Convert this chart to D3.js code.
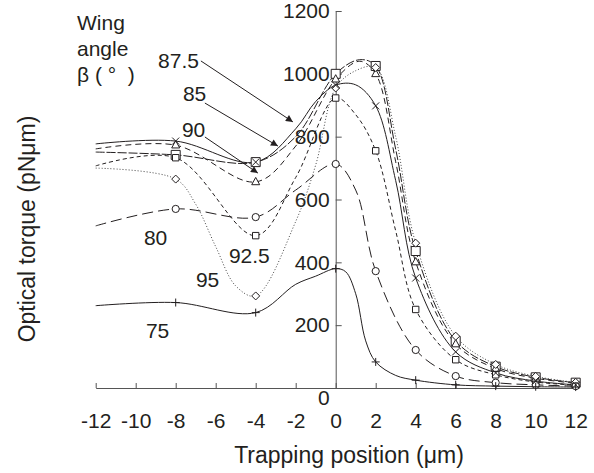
<!DOCTYPE html>
<html>
<head>
<meta charset="utf-8">
<script src="https://cdn.jsdelivr.net/npm/d3@7"></script>
<style>
  body { margin: 0; background: #fff; }
  svg text { font-family: "Liberation Sans", Arial, sans-serif; fill: #231f20; }
</style>
</head>
<body>
<svg id="chart" width="594" height="473"></svg>
<script>
// --- Data ---
const xTicks = [-12, -10, -8, -6, -4, -2, 0, 2, 4, 6, 8, 10, 12];
const yTicks = [0, 200, 400, 600, 800, 1000, 1200];
const markerX = [-8, -4, 0, 2, 4, 6, 8, 10, 12];

// [position (um), torque (pN um)]
const s75 = [[-12, 262], [-8, 272], [-4, 240], [-2, 330], [-1, 356], [0, 380], [0.5, 370], [1, 300], [1.5, 150], [2, 83], [3, 40], [4, 25], [6, 10], [8, 6], [10, 4], [12, 3]];
const s80 = [[-12, 516], [-8, 570], [-4, 544], [-2, 630], [0, 713], [1, 630], [2, 372], [4, 121], [6, 38], [8, 17], [10, 10], [12, 6]];
const s85 = [[-12, 777], [-8, 786], [-4, 719], [-2, 825], [-1, 912], [0, 964], [1, 965], [2, 898], [3, 660], [4, 350], [6, 115], [8, 48], [10, 22], [12, 10]];
const s875 = [[-12, 751], [-8, 742], [-4, 719], [-2, 800], [0, 1000], [1.2, 1045], [2, 1025], [3, 760], [4, 436], [6, 150], [8, 68], [10, 34], [12, 17]];
const s90 = [[-12, 761], [-8, 773], [-4, 656], [-2, 770], [0, 983], [1.2, 1040], [2, 1000], [3, 720], [4, 401], [6, 140], [8, 62], [10, 31], [12, 15]];
const s925 = [[-12, 707], [-8, 733], [-4, 485], [-2, 670], [0, 923], [1, 870], [2, 755], [3, 500], [4, 250], [6, 90], [8, 42], [10, 19], [12, 9]];
const s95 = [[-12, 700], [-8, 665], [-7, 585], [-6, 450], [-5, 325], [-4, 293], [-2, 530], [-1, 710], [0, 955], [1, 1010], [2, 1020], [3, 800], [4, 461], [6, 165], [8, 75], [10, 37], [12, 18]];

const series = [
    { name: "75", pts: s75, dash: null, marker: "plus" },
    { name: "80", pts: s80, dash: "11,5", marker: "circle" },
    { name: "85", pts: s85, dash: null, marker: "cross" },
    { name: "87.5", pts: s875, dash: "9,2", marker: "square" },
    { name: "90", pts: s90, dash: "6,4", marker: "triangle" },
    { name: "92.5", pts: s925, dash: "4,3", marker: "smallSquare" },
    { name: "95", pts: s95, dash: "1,2", marker: "diamond" }
];

// annotation labels, in data units (left edge, baseline)
const labelText = ["87.5", "85", "90", "80", "92.5", "95", "75"];
const labelPos = [[-8.88, 1019], [-7.64, 913], [-7.69, 799], [-9.59, 455], [-5.34, 398], [-6.99, 321], [-9.49, 159]];
const arrowFrom = [[-6.74, 1041], [-6.54, 907], [-6.54, 799]];
const arrowTo = [[-2.14, 847], [-2.89, 770], [-3.89, 684]];

// --- Setup ---
const svg = d3.select("#chart");
const x = d3.scaleLinear().domain([-12, 12]).range([95.7, 575.7]);
const y = d3.scaleLinear().domain([0, 1200]).range([388, 11]);
const ink = "#231f20";

svg.append("defs").append("marker")
    .attr("id", "arrow").attr("viewBox", "0 0 10 10")
    .attr("refX", 10).attr("refY", 5)
    .attr("markerWidth", 9).attr("markerHeight", 7)
    .attr("markerUnits", "userSpaceOnUse")
    .attr("orient", "auto")
  .append("path").attr("d", "M0,0L10,5L0,10Z").attr("fill", ink);

// --- Axes ---
const plain = d => String(d);   // hyphen minus, no thousands comma
const xAxis = svg.append("g")
    .attr("transform", `translate(0,${y(0)})`)
    .call(d3.axisBottom(x).tickValues(xTicks).tickFormat(plain)
        .tickSizeInner(-5).tickSizeOuter(0).tickPadding(25));
const yAxis = svg.append("g")
    .attr("transform", `translate(${x(0)},0)`)
    .call(d3.axisLeft(y).tickValues(yTicks).tickFormat(plain)
        .tickSizeInner(-6).tickSizeOuter(0).tickPadding(6));

[xAxis, yAxis].forEach(g => {
    g.selectAll("path, line").attr("stroke", "#555").attr("stroke-width", 1);
    g.selectAll("text").attr("font-size", 21).attr("font-family", "Liberation Sans, Arial, sans-serif").attr("fill", ink);
});
// "0" sits below the x axis
yAxis.selectAll(".tick").filter(d => d === 0).select("text").attr("transform", "translate(0,10)");

svg.append("text")
    .attr("x", 349).attr("y", 463)
    .attr("text-anchor", "middle").attr("font-size", 23)
    .text("Trapping position (μm)");

svg.append("text")
    .attr("transform", "translate(35,229) rotate(-90)")
    .attr("text-anchor", "middle").attr("font-size", 23)
    .text("Optical torque (pNμm)");

// --- Curves ---
const line = d3.line()
    .x(d => x(d[0])).y(d => y(d[1]))
    .curve(d3.curveCatmullRom.alpha(0.5));

const gLines = svg.append("g");
series.forEach(s => {
    gLines.append("path")
        .attr("d", line(s.pts))
        .attr("fill", "none")
        .attr("stroke", s.marker === "diamond" ? "#444" : ink)
        .attr("stroke-width", 1)
        .attr("stroke-dasharray", s.dash);
});

// --- Markers ---
const shapes = {
    plus: "M-4,0H4M0,-4V4",
    cross: "M-3.5,-3.5L3.5,3.5M-3.5,3.5L3.5,-3.5",
    square: "M-4.5,-4.5H4.5V4.5H-4.5Z",
    smallSquare: "M-3.2,-3.2H3.2V3.2H-3.2Z",
    triangle: "M0,-4.5L4,2.8H-4Z",
    diamond: "M0,-4L4,0L0,4L-4,0Z"
};

// hollow markers first, then the open strokes (+, x) on top
const drawOrder = ["square", "smallSquare", "triangle", "diamond", "circle", "cross", "plus"];
const gMarks = svg.append("g");
drawOrder.forEach(m => {
    series.filter(s => s.marker === m).forEach(s => {
        const pts = s.pts.filter(p => markerX.includes(p[0]));
        const sel = gMarks.selectAll(null).data(pts).join("g")
            .attr("transform", d => `translate(${x(d[0])},${y(d[1])})`);
        if (m === "circle") {
            sel.append("circle").attr("r", 3.6)
                .attr("fill", "#fff").attr("stroke", ink).attr("stroke-width", 1);
        } else {
            const hollow = !(m === "plus" || m === "cross");
            sel.append("path").attr("d", shapes[m])
                .attr("fill", hollow ? "#fff" : "none")
                .attr("stroke", ink).attr("stroke-width", 1);
        }
    });
});

// --- Annotations ---
const gAnn = svg.append("g");
gAnn.selectAll("text.lbl").data(labelText).join("text")
    .attr("class", "lbl")
    .attr("x", (d, i) => x(labelPos[i][0]))
    .attr("y", (d, i) => y(labelPos[i][1]))
    .attr("font-size", 21)
    .text(d => d);

gAnn.selectAll("line.arr").data(arrowFrom).join("line")
    .attr("class", "arr")
    .attr("x1", d => x(d[0])).attr("y1", d => y(d[1]))
    .attr("x2", (d, i) => x(arrowTo[i][0])).attr("y2", (d, i) => y(arrowTo[i][1]))
    .attr("stroke", ink).attr("stroke-width", 1)
    .attr("marker-end", "url(#arrow)");

const legendTitle = ["Wing", "angle", "β ( °  )"];
svg.append("text")
    .attr("font-size", 21)
    .selectAll("tspan").data(legendTitle).join("tspan")
    .attr("x", 77).attr("y", (d, i) => 30 + i * 26)
    .attr("xml:space", "preserve")
    .text(d => d);
</script>
</body>
</html>
